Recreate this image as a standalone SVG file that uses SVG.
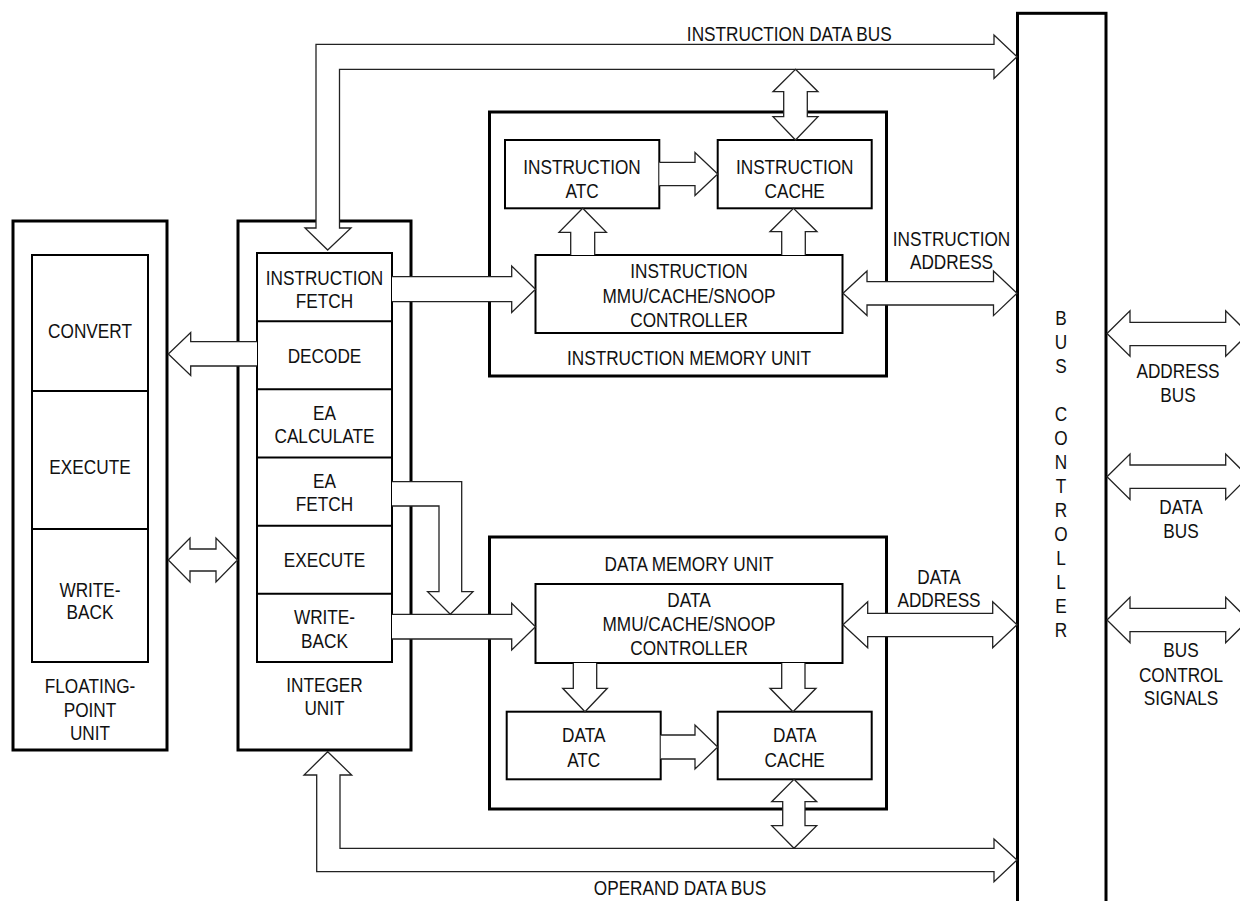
<svg xmlns="http://www.w3.org/2000/svg" width="1240" height="901" viewBox="0 0 1240 901">
<style>
.outer{fill:none;stroke:#000;stroke-width:3}
.box{fill:#fff;stroke:#000;stroke-width:2}
.div{stroke:#000;stroke-width:2}
.arrow{fill:#fff;stroke:#222;stroke-width:1.3;stroke-linejoin:miter}
text{font-family:"Liberation Sans Narrow","Arial Narrow","Liberation Sans",Arial,sans-serif;font-size:21px;fill:#111;text-anchor:middle}
</style>
<rect x="0" y="0" width="1240" height="901" fill="#fff"/>

<g id="fpu">
<rect class="outer" x="13" y="221" width="154" height="529"/>
<rect class="box" x="32" y="255" width="116" height="407"/>
<line class="div" x1="32" y1="391" x2="148" y2="391"/>
<line class="div" x1="32" y1="529" x2="148" y2="529"/>
<text transform="translate(90,338) scale(0.82,1)">CONVERT</text>
<text transform="translate(90,474) scale(0.82,1)">EXECUTE</text>
<text transform="translate(90,597) scale(0.82,1)">WRITE-</text>
<text transform="translate(90,619) scale(0.82,1)">BACK</text>
<text transform="translate(90,693) scale(0.82,1)">FLOATING-</text>
<text transform="translate(90,716.5) scale(0.82,1)">POINT</text>
<text transform="translate(90,740) scale(0.82,1)">UNIT</text>
</g>

<g id="integer-unit">
<rect class="outer" x="238" y="221" width="173" height="529"/>
<rect class="box" x="257" y="253" width="135" height="409"/>
<line class="div" x1="257" y1="321.2" x2="392" y2="321.2"/>
<line class="div" x1="257" y1="389.3" x2="392" y2="389.3"/>
<line class="div" x1="257" y1="457.5" x2="392" y2="457.5"/>
<line class="div" x1="257" y1="525.7" x2="392" y2="525.7"/>
<line class="div" x1="257" y1="593.8" x2="392" y2="593.8"/>
<text transform="translate(324.5,285) scale(0.82,1)">INSTRUCTION</text>
<text transform="translate(324.5,308.3) scale(0.82,1)">FETCH</text>
<text transform="translate(324.5,362.7) scale(0.82,1)">DECODE</text>
<text transform="translate(324.5,419.5) scale(0.82,1)">EA</text>
<text transform="translate(324.5,442.8) scale(0.82,1)">CALCULATE</text>
<text transform="translate(324.5,488) scale(0.82,1)">EA</text>
<text transform="translate(324.5,511.3) scale(0.82,1)">FETCH</text>
<text transform="translate(324.5,567.3) scale(0.82,1)">EXECUTE</text>
<text transform="translate(324.5,624.4) scale(0.82,1)">WRITE-</text>
<text transform="translate(324.5,647.7) scale(0.82,1)">BACK</text>
<text transform="translate(324.5,691.7) scale(0.82,1)">INTEGER</text>
<text transform="translate(324.5,715) scale(0.82,1)">UNIT</text>
</g>

<g id="instruction-memory-unit">
<rect class="outer" x="489.5" y="112" width="397" height="264"/>
<text transform="translate(689,365) scale(0.82,1)">INSTRUCTION MEMORY UNIT</text>
</g>
<g id="instruction-atc">
<rect class="box" x="505" y="140" width="154.3" height="68.3"/>
<text transform="translate(582,174) scale(0.82,1)">INSTRUCTION</text>
<text transform="translate(582,198.3) scale(0.82,1)">ATC</text>
</g>
<g id="instruction-cache">
<rect class="box" x="717.7" y="140" width="154" height="68.3"/>
<text transform="translate(794.7,174) scale(0.82,1)">INSTRUCTION</text>
<text transform="translate(794.7,198.3) scale(0.82,1)">CACHE</text>
</g>
<g id="instruction-mmu">
<rect class="box" x="535.5" y="255" width="307" height="78"/>
<text transform="translate(689,278.3) scale(0.82,1)">INSTRUCTION</text>
<text transform="translate(689,302.7) scale(0.82,1)">MMU/CACHE/SNOOP</text>
<text transform="translate(689,326.7) scale(0.82,1)">CONTROLLER</text>
</g>

<g id="data-memory-unit">
<rect class="outer" x="489.5" y="537" width="397" height="272"/>
<text transform="translate(689,571) scale(0.82,1)">DATA MEMORY UNIT</text>
</g>
<g id="data-mmu">
<rect class="box" x="535.5" y="584" width="307" height="79"/>
<text transform="translate(689,606.7) scale(0.82,1)">DATA</text>
<text transform="translate(689,630.7) scale(0.82,1)">MMU/CACHE/SNOOP</text>
<text transform="translate(689,655) scale(0.82,1)">CONTROLLER</text>
</g>
<g id="data-atc">
<rect class="box" x="506.7" y="711.7" width="154" height="67.6"/>
<text transform="translate(583.7,742.3) scale(0.82,1)">DATA</text>
<text transform="translate(583.7,766.7) scale(0.82,1)">ATC</text>
</g>
<g id="data-cache">
<rect class="box" x="717.7" y="711.7" width="154" height="67.6"/>
<text transform="translate(794.7,742.3) scale(0.82,1)">DATA</text>
<text transform="translate(794.7,766.7) scale(0.82,1)">CACHE</text>
</g>

<g id="bus-controller">
<rect class="outer" x="1017.5" y="13.3" width="88.5" height="900"/>
<text transform="translate(1061,325) scale(0.82,1)">B</text>
<text transform="translate(1061,349) scale(0.82,1)">U</text>
<text transform="translate(1061,373) scale(0.82,1)">S</text>
<text transform="translate(1061,421) scale(0.82,1)">C</text>
<text transform="translate(1061,445) scale(0.82,1)">O</text>
<text transform="translate(1061,469) scale(0.82,1)">N</text>
<text transform="translate(1061,493) scale(0.82,1)">T</text>
<text transform="translate(1061,517) scale(0.82,1)">R</text>
<text transform="translate(1061,541) scale(0.82,1)">O</text>
<text transform="translate(1061,565) scale(0.82,1)">L</text>
<text transform="translate(1061,589) scale(0.82,1)">L</text>
<text transform="translate(1061,613) scale(0.82,1)">E</text>
<text transform="translate(1061,637) scale(0.82,1)">R</text>
</g>

<g id="connectors">
<path id="instruction-data-bus" class="arrow" d="M327.7,250 L351,228 L339.5,228 L339.5,69.3 L994,69.3 L994,78.5 L1017,56.8 L994,35 L994,44.3 L316,44.3 L316,228 L305,228 Z"/>
<path class="arrow" d="M392,276.7 L511.7,276.7 L511.7,266 L535.5,289.2 L511.7,312.4 L511.7,301.7 L392,301.7"/>
<path class="arrow" d="M257,341.7 L190.7,341.7 L190.7,332.5 L168.3,354 L190.7,375.5 L190.7,366 L257,366"/>
<path class="arrow" d="M168.3,560 L190,538 L190,549 L216,549 L216,538 L237.5,560 L216,582 L216,571 L190,571 L190,582 Z"/>
<path class="arrow" d="M392,614.3 L511.7,614.3 L511.7,603.3 L535.5,626.7 L511.7,650 L511.7,639 L392,639"/>
<path class="arrow" d="M392,481.7 L461.7,481.7 L461.7,591.7 L473,591.7 L450.3,614.3 L427.6,591.7 L439,591.7 L439,506 L392,506"/>
<path class="arrow" d="M659.3,162.3 L695,162.3 L695,152.5 L717.7,174 L695,195.5 L695,185.7 L659.3,185.7"/>
<path class="arrow" d="M570.7,255 L570.7,232.3 L559,232.3 L582.7,208.3 L606.4,232.3 L594.7,232.3 L594.7,255"/>
<path class="arrow" d="M781.7,255 L781.7,231.7 L770,231.7 L793.5,208.3 L817,231.7 L805.3,231.7 L805.3,255"/>
<path class="arrow" d="M795.5,69.3 L818,91.7 L807.3,91.7 L807.3,116.7 L818,116.7 L795.5,140 L773,116.7 L783.7,116.7 L783.7,91.7 L773,91.7 Z"/>
<path class="arrow" d="M843,293.3 L867,271 L867,281.7 L993.5,281.7 L993.5,271 L1017,293.3 L993.5,315.6 L993.5,305 L867,305 L867,315.6 Z"/>
<path class="arrow" d="M843,624.7 L867.7,601.7 L867.7,613.3 L992.7,613.3 L992.7,601.7 L1017,624.7 L992.7,647.7 L992.7,636.7 L867.7,636.7 L867.7,647.7 Z"/>
<path class="arrow" d="M573.3,663 L573.3,688.3 L562.7,688.3 L585,711.7 L607.3,688.3 L596.7,688.3 L596.7,663"/>
<path class="arrow" d="M781.7,663 L781.7,688.3 L770,688.3 L793,711.7 L816,688.3 L805,688.3 L805,663"/>
<path class="arrow" d="M660.7,735 L695,735 L695,725 L717.7,747 L695,769 L695,759 L660.7,759"/>
<path class="arrow" d="M794,779.3 L816.7,801.7 L805,801.7 L805,825.7 L816.7,825.7 L794,848.3 L771.7,825.7 L782.7,825.7 L782.7,801.7 L771.7,801.7 Z"/>
<path id="operand-data-bus" class="arrow" d="M327.7,751.7 L351.7,775 L340,775 L340,848.3 L994,848.3 L994,839 L1017,860 L994,881.7 L994,871.7 L316.7,871.7 L316.7,775 L304,775 Z"/>
<path class="arrow" d="M1107,333.5 L1130,310.8 L1130,322.3 L1225.7,322.3 L1225.7,310.8 L1248.5,333.5 L1225.7,356.2 L1225.7,345.7 L1130,345.7 L1130,356.2 Z"/>
<path class="arrow" d="M1107,476.7 L1130,454 L1130,465 L1225.7,465 L1225.7,454 L1248.5,476.7 L1225.7,499.4 L1225.7,488.4 L1130,488.4 L1130,499.4 Z"/>
<path class="arrow" d="M1107,620 L1130,597.3 L1130,608.3 L1225.7,608.3 L1225.7,597.3 L1248.5,620 L1225.7,642.7 L1225.7,631.7 L1130,631.7 L1130,642.7 Z"/>
</g>

<g id="connector-labels">
<text transform="translate(789.3,40.7) scale(0.82,1)">INSTRUCTION DATA BUS</text>
<text transform="translate(680,895) scale(0.82,1)">OPERAND DATA BUS</text>
<text transform="translate(951.5,245.7) scale(0.82,1)">INSTRUCTION</text>
<text transform="translate(951.5,269.3) scale(0.82,1)">ADDRESS</text>
<text transform="translate(939,584) scale(0.82,1)">DATA</text>
<text transform="translate(939,606.7) scale(0.82,1)">ADDRESS</text>
<text transform="translate(1178,378.3) scale(0.82,1)">ADDRESS</text>
<text transform="translate(1178,401.7) scale(0.82,1)">BUS</text>
<text transform="translate(1181,514.3) scale(0.82,1)">DATA</text>
<text transform="translate(1181,537.7) scale(0.82,1)">BUS</text>
<text transform="translate(1181,657.3) scale(0.82,1)">BUS</text>
<text transform="translate(1181,681.7) scale(0.82,1)">CONTROL</text>
<text transform="translate(1181,705) scale(0.82,1)">SIGNALS</text>
</g>
</svg>
